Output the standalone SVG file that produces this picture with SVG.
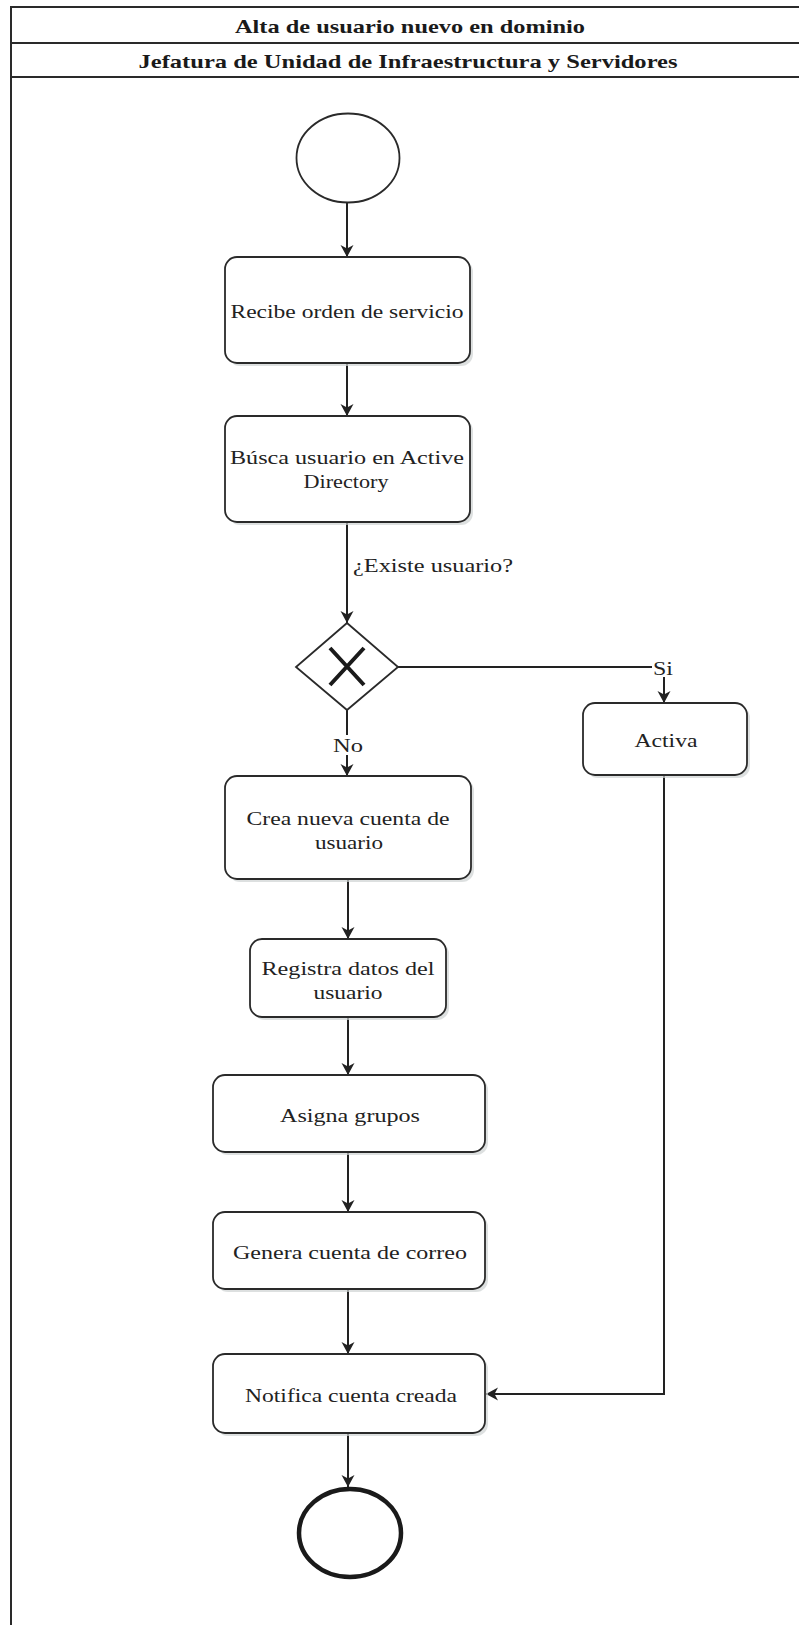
<svg xmlns="http://www.w3.org/2000/svg" width="799" height="1625" viewBox="0 0 799 1625">
<style>
.frame{fill:none;stroke:#2a2a2a;stroke-width:2}
.box{fill:#fff;stroke:#2a2a2a;stroke-width:1.8}
.shadow{fill:#cfd3d3;opacity:0.7}
.lbl{font-family:"Liberation Serif","Times New Roman",serif;font-size:19px;fill:#222;text-anchor:middle;dominant-baseline:central}
.hdr{font-family:"Liberation Serif","Times New Roman",serif;font-size:19px;font-weight:bold;fill:#1a1a1a;text-anchor:middle;dominant-baseline:central}
.edge{fill:none;stroke:#222;stroke-width:2}
.bg{fill:#fff}
</style>
<defs>
<marker id="arr" markerWidth="14" markerHeight="14" refX="13" refY="7" orient="auto" markerUnits="userSpaceOnUse" viewBox="0 0 14 14">
<path d="M1,0.5 L13,7 L1,13.5 L4.5,7 Z" fill="#222"/>
</marker>
</defs>
<rect width="799" height="1625" fill="#fff"/>
<g id="pool">
<rect class="frame" x="11" y="7" width="810" height="1640"/>
<line class="frame" x1="11" y1="43" x2="799" y2="43"/>
<line class="frame" x1="11" y1="77" x2="799" y2="77"/>
<text class="hdr" x="410" y="26" textLength="350" lengthAdjust="spacingAndGlyphs">Alta de usuario nuevo en dominio</text>
<text class="hdr" x="408" y="61" textLength="539" lengthAdjust="spacingAndGlyphs">Jefatura de Unidad de Infraestructura y Servidores</text>
</g>
<g id="connectors">
<line class="edge" x1="347" y1="202" x2="347" y2="257" marker-end="url(#arr)"/>
<line class="edge" x1="347" y1="363" x2="347" y2="416" marker-end="url(#arr)"/>
<line class="edge" x1="347" y1="522" x2="347" y2="623" marker-end="url(#arr)"/>
<line class="edge" x1="347" y1="710" x2="347" y2="776" marker-end="url(#arr)"/>
<polyline class="edge" points="398,667 664,667 664,703" marker-end="url(#arr)"/>
<line class="edge" x1="348" y1="879" x2="348" y2="939" marker-end="url(#arr)"/>
<line class="edge" x1="348" y1="1017" x2="348" y2="1075" marker-end="url(#arr)"/>
<line class="edge" x1="348" y1="1152" x2="348" y2="1212" marker-end="url(#arr)"/>
<line class="edge" x1="348" y1="1289" x2="348" y2="1354" marker-end="url(#arr)"/>
<polyline class="edge" points="664,775 664,1394 486,1394" marker-end="url(#arr)"/>
<line class="edge" x1="348" y1="1433" x2="348" y2="1487" marker-end="url(#arr)"/>
<text class="lbl" x="353" y="565" style="text-anchor:start" textLength="160" lengthAdjust="spacingAndGlyphs">¿Existe usuario?</text>
<rect class="bg" x="333" y="735" width="30" height="20"/>
<text class="lbl" x="348" y="745" textLength="30" lengthAdjust="spacingAndGlyphs">No</text>
<rect class="bg" x="652" y="657" width="22" height="20"/>
<text class="lbl" x="663" y="668" textLength="20" lengthAdjust="spacingAndGlyphs">Si</text>
</g>
<g id="start">
<ellipse cx="348" cy="158" rx="51.5" ry="44.5" fill="#fff" stroke="#2a2a2a" stroke-width="1.8"/>
</g>
<g id="recibe">
<rect class="shadow" x="228" y="260" width="245" height="106" rx="12"/>
<rect class="box" x="225" y="257" width="245" height="106" rx="12"/>
<text class="lbl" x="347" y="311" textLength="233" lengthAdjust="spacingAndGlyphs">Recibe orden de servicio</text>
</g>
<g id="busca">
<rect class="shadow" x="228" y="419" width="245" height="106" rx="12"/>
<rect class="box" x="225" y="416" width="245" height="106" rx="12"/>
<text class="lbl" x="347" y="457" textLength="234" lengthAdjust="spacingAndGlyphs">Búsca usuario en Active</text>
<text class="lbl" x="346" y="481" textLength="85" lengthAdjust="spacingAndGlyphs">Directory</text>
</g>
<g id="gateway">
<polygon points="347,623 398,667 347,710 296,667" fill="#fff" stroke="#2a2a2a" stroke-width="1.8"/>
<path d="M330,648 L364,685 M364,648 L330,685" stroke="#1a1a1a" stroke-width="4" fill="none"/>
</g>
<g id="activa">
<rect class="shadow" x="586" y="706" width="164" height="72" rx="12"/>
<rect class="box" x="583" y="703" width="164" height="72" rx="12"/>
<text class="lbl" x="666" y="740" textLength="63" lengthAdjust="spacingAndGlyphs">Activa</text>
</g>
<g id="crea">
<rect class="shadow" x="228" y="779" width="246" height="103" rx="12"/>
<rect class="box" x="225" y="776" width="246" height="103" rx="12"/>
<text class="lbl" x="348" y="818" textLength="203" lengthAdjust="spacingAndGlyphs">Crea nueva cuenta de</text>
<text class="lbl" x="349" y="842" textLength="68" lengthAdjust="spacingAndGlyphs">usuario</text>
</g>
<g id="registra">
<rect class="shadow" x="253" y="942" width="196" height="78" rx="12"/>
<rect class="box" x="250" y="939" width="196" height="78" rx="12"/>
<text class="lbl" x="348" y="968" textLength="173" lengthAdjust="spacingAndGlyphs">Registra datos del</text>
<text class="lbl" x="348" y="992" textLength="69" lengthAdjust="spacingAndGlyphs">usuario</text>
</g>
<g id="asigna">
<rect class="shadow" x="216" y="1078" width="272" height="77" rx="12"/>
<rect class="box" x="213" y="1075" width="272" height="77" rx="12"/>
<text class="lbl" x="350" y="1115" textLength="140" lengthAdjust="spacingAndGlyphs">Asigna grupos</text>
</g>
<g id="genera">
<rect class="shadow" x="216" y="1215" width="272" height="77" rx="12"/>
<rect class="box" x="213" y="1212" width="272" height="77" rx="12"/>
<text class="lbl" x="350" y="1252" textLength="234" lengthAdjust="spacingAndGlyphs">Genera cuenta de correo</text>
</g>
<g id="notifica">
<rect class="shadow" x="216" y="1357" width="272" height="79" rx="12"/>
<rect class="box" x="213" y="1354" width="272" height="79" rx="12"/>
<text class="lbl" x="351" y="1395" textLength="212" lengthAdjust="spacingAndGlyphs">Notifica cuenta creada</text>
</g>
<g id="end">
<ellipse cx="350" cy="1533" rx="51" ry="44" fill="#fff" stroke="#1a1a1a" stroke-width="4.5"/>
</g>
</svg>
